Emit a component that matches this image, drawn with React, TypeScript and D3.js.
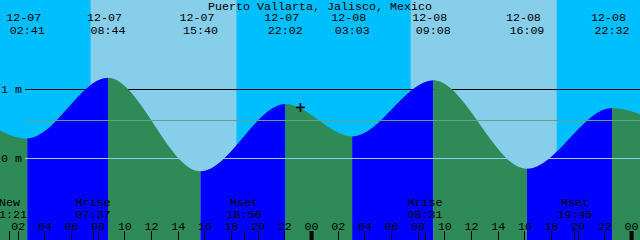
import React from "react";
import * as d3 from "d3";

const YEAR = "2024";
const title = "Puerto Vallarta, Jalisco, Mexico";
const viewStart = "12-07 00:38";
const viewEnd = "12-09 00:38";

// tide extremes (first and last lie outside the window)
const tideTimes = [
  "12-06 21:35", "12-07 02:41", "12-07 08:44", "12-07 15:40", "12-07 22:02",
  "12-08 03:03", "12-08 09:08", "12-08 16:09", "12-08 22:32", "12-09 03:30",
];
const tideLevels = [0.85, 0.29, 1.17, -0.185, 0.79, 0.32, 1.135, -0.15, 0.733, 0.33];
const tideLabeled = [false, true, true, true, true, true, true, true, true, false];

const sunriseTimes = ["12-07 07:26", "12-08 07:26"];
const sunsetTimes = ["12-07 18:22", "12-08 18:23"];

const moonEventNames = ["New", "Mrise", "Mset", "Mrise", "Mset"];
const moonEventTimes = ["12-07 01:21", "12-07 07:37", "12-07 18:56", "12-08 08:31", "12-08 19:45"];

const depthLabels = ["1 m", "0 m"];
const depthValues = [1, 0];
const meanLevel = 0.55;
const markTime = "12-07 23:10";
const markLevel = 0.74;

const W = 640;
const H = 240;
const FONT = "'Liberation Mono', 'DejaVu Sans Mono', monospace";
const FS = 11.67;

const parse = d3.utcParse("%Y-%m-%d %H:%M");
const p = (s: string) => parse(`${YEAR}-${s}`) as Date;

export default function App() {
  const x = d3.scaleUtc().domain([p(viewStart), p(viewEnd)]).range([0, W]);
  const y = d3.scaleLinear().domain([0, 1]).range([158.5, 89.5]);

  const pts = tideTimes.map((t, i) => ({ t: p(t), v: tideLevels[i] }));
  const water = d3
    .area<{ t: Date; v: number }>()
    .x((d) => x(d.t))
    .y0(H + 10)
    .y1((d) => y(d.v))
    .curve(d3.curveMonotoneX)(pts) as string;

  const segs = pts.slice(0, -1).map((d, i) => ({
    x0: x(d.t),
    x1: x(pts[i + 1].t),
    flood: pts[i + 1].v > d.v,
  }));

  const hourTicks = x.ticks(d3.utcHour.every(2) as any);
  const lineX0 = 25;

  return (
    <svg
      width={W}
      height={H}
      style={{ position: "absolute", left: 0, top: 0, display: "block" }}
      fontFamily={FONT}
      fontSize={FS}
    >
      <defs>
        <clipPath id="waterClip">
          <path d={water} />
        </clipPath>
      </defs>
      {/* sky */}
      <rect x={0} y={0} width={W} height={H} fill="#00bfff" />
      {sunriseTimes.map((s, i) => (
        <rect
          key={"day" + i}
          x={x(p(s))}
          y={0}
          width={x(p(sunsetTimes[i])) - x(p(s))}
          height={H}
          fill="#87ceeb"
        />
      ))}
      {/* 1 m line under water */}
      {depthValues
        .filter((v) => v !== 0)
        .map((v) => (
          <line key={"dl" + v} x1={lineX0} x2={W} y1={Math.floor(y(v)) + 0.5} y2={Math.floor(y(v)) + 0.5} stroke="#000" />
        ))}
      {/* water */}
      <g clipPath="url(#waterClip)">
        {segs.map((s, i) => (
          <rect key={"w" + i} x={s.x0} y={0} width={s.x1 - s.x0} height={H + 10} fill={s.flood ? "#0000ff" : "#2e8b57"} />
        ))}
      </g>
      {/* msl and datum */}
      <line x1={lineX0} x2={W} y1={Math.floor(y(meanLevel)) + 0.5} y2={Math.floor(y(meanLevel)) + 0.5} stroke="#63a285" />
      <line x1={lineX0} x2={W} y1={Math.floor(y(0)) + 0.5} y2={Math.floor(y(0)) + 0.5} stroke="#8fcdea" />
      {/* depth labels */}
      {depthLabels.map((l, i) => (
        <text key={"dt" + i} x={1} y={y(depthValues[i]) + 3.5}>
          {l}
        </text>
      ))}
      {/* title */}
      <text x={W / 2} y={10} textAnchor="middle">
        {title}
      </text>
      {/* tide labels */}
      {tideTimes.map((t, i) =>
        tideLabeled[i] ? (
          <g key={"tl" + i}>
            <text x={x(p(t)) - 3.5} y={21} textAnchor="middle">
              {t.slice(0, 5)}
            </text>
            <text x={x(p(t))} y={34} textAnchor="middle">
              {t.slice(6)}
            </text>
          </g>
        ) : null
      )}
      {/* moon events */}
      {moonEventTimes.map((t, i) => (
        <g key={"me" + i}>
          <text x={x(p(t))} y={206} textAnchor="middle">
            {moonEventNames[i]}
          </text>
          <text x={x(p(t))} y={217.5} textAnchor="middle">
            {t.slice(6)}
          </text>
          <line x1={Math.floor(x(p(t))) + 0.5} x2={Math.floor(x(p(t))) + 0.5} y1={231} y2={H} stroke="#000" />
        </g>
      ))}
      {/* hour ticks */}
      {hourTicks.map((d, i) => {
        const xx = x(d);
        const midnight = d.getUTCHours() === 0;
        return (
          <g key={"ht" + i}>
            <text x={xx} y={229.5} textAnchor="middle">
              {d3.utcFormat("%H")(d)}
            </text>
            {midnight ? (
              <rect x={xx - 2} y={231} width={4} height={H - 231} fill="#000" />
            ) : (
              <line x1={Math.floor(xx) + 0.5} x2={Math.floor(xx) + 0.5} y1={231} y2={H} stroke="#000" />
            )}
          </g>
        );
      })}
      {/* current mark */}
      <g stroke="#000" strokeWidth={1.6}>
        <line x1={x(p(markTime)) - 4.5} x2={x(p(markTime)) + 4.5} y1={y(markLevel)} y2={y(markLevel)} />
        <line x1={x(p(markTime))} x2={x(p(markTime))} y1={y(markLevel) - 4.5} y2={y(markLevel) + 4.5} />
      </g>
    </svg>
  );
}
